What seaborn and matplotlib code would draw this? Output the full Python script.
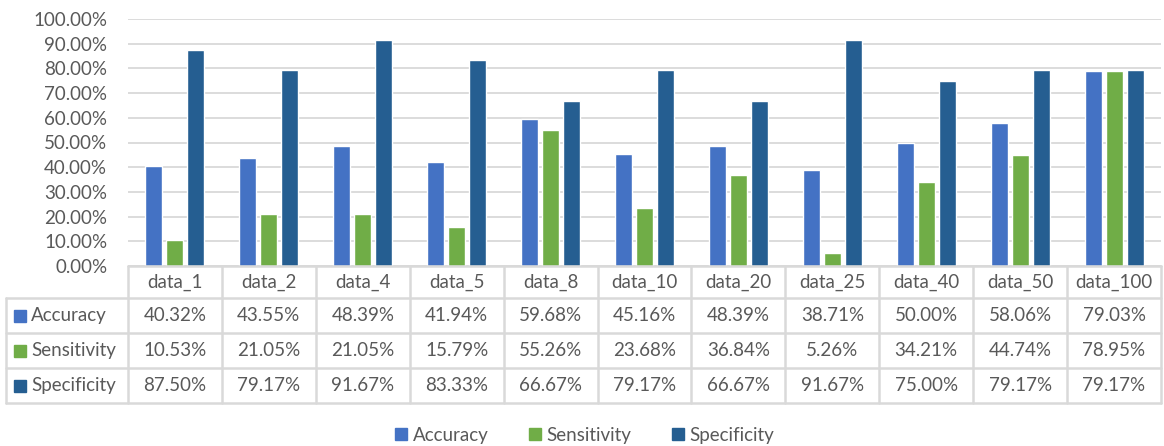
import matplotlib
matplotlib.use("Agg")
import matplotlib.pyplot as plt
import seaborn as sns
import pandas as pd
from matplotlib.lines import Line2D
from matplotlib.patches import Rectangle

# values
datasets = ["data_1", "data_2", "data_4", "data_5", "data_8", "data_10",
            "data_20", "data_25", "data_40", "data_50", "data_100"]
accuracy = [40.32, 43.55, 48.39, 41.94, 59.68, 45.16, 48.39, 38.71, 50.00, 58.06, 79.03]
sensitivity = [10.53, 21.05, 21.05, 15.79, 55.26, 23.68, 36.84, 5.26, 34.21, 44.74, 78.95]
specificity = [87.50, 79.17, 91.67, 83.33, 66.67, 79.17, 66.67, 91.67, 75.00, 79.17, 79.17]
metrics = ["Accuracy", "Sensitivity", "Specificity"]
colors = ["#4472C4", "#70AD47", "#255E91"]

df = pd.DataFrame({
    "dataset": datasets * 3,
    "metric": [m for m in metrics for _ in datasets],
    "value": accuracy + sensitivity + specificity,
})

W, H = 1164, 446
sns.set_theme(style="white")
plt.rcParams["font.family"] = ["Lato", "DejaVu Sans"]
txt = "#595959"
line_c = "#d9d9d9"
fs = 13.5

fig = plt.figure(figsize=(W / 100, H / 100), dpi=100)
# axes placed in pixel terms
x0, x1, y_top, y_bot = 128, 1161, 19, 266
ax = fig.add_axes([x0 / W, 1 - y_bot / H, (x1 - x0) / W, (y_bot - y_top) / H])

sns.barplot(data=df, x="dataset", y="value", hue="metric", palette=colors,
            width=0.67, gap=0.19, ax=ax, legend=False, saturation=1)
ax.set_xlim(-0.5, len(datasets) - 0.5)
ax.set_ylim(0, 100)
ax.set_yticks(range(0, 101, 10))
ax.set_yticklabels([f"{v:.2f}%" for v in range(0, 101, 10)], color=txt, fontsize=fs)
ax.tick_params(axis="y", length=0, pad=15)
ax.set_xticks([])
ax.set_xlabel("")
ax.set_ylabel("")
ax.yaxis.grid(True, color=line_c, linewidth=1.3)
ax.set_axisbelow(True)
for s in ax.spines.values():
    s.set_visible(False)

# data table below the axes
def fx(px):
    return px / W

def fy(py):
    return 1 - py / H

col_w = (x1 - x0) / len(datasets)
rows = [266, 298, 333, 368, 403]
left = 6
lw = 1.8
# horizontal lines
fig.add_artist(Line2D([fx(x0), fx(x1)], [fy(rows[0])] * 2, color=line_c, lw=lw))
for r in rows[1:]:
    fig.add_artist(Line2D([fx(left), fx(x1)], [fy(r)] * 2, color=line_c, lw=lw))
# vertical lines
for i in range(len(datasets) + 1):
    xp = x0 + i * col_w
    fig.add_artist(Line2D([fx(xp)] * 2, [fy(rows[0]), fy(rows[-1])], color=line_c, lw=lw))
fig.add_artist(Line2D([fx(left)] * 2, [fy(rows[1]), fy(rows[-1])], color=line_c, lw=lw))

# header
for i, name in enumerate(datasets):
    cx = x0 + (i + 0.5) * col_w
    fig.text(fx(cx), fy((rows[0] + rows[1]) / 2), name, ha="center", va="center",
             color=txt, fontsize=fs)

series = [accuracy, sensitivity, specificity]
for j, (m, c, vals) in enumerate(zip(metrics, colors, series)):
    cy = (rows[j + 1] + rows[j + 2]) / 2
    fig.add_artist(Rectangle((fx(14), fy(cy + 6)), 12 / W, 12 / H, color=c,
                             transform=fig.transFigure))
    fig.text(fx(31), fy(cy), m, ha="left", va="center", color=txt, fontsize=fs)
    for i, v in enumerate(vals):
        cx = x0 + (i + 0.5) * col_w
        fig.text(fx(cx), fy(cy), f"{v:.2f}%", ha="center", va="center",
                 color=txt, fontsize=fs)

# legend
handles = [Line2D([], [], marker="s", linestyle="", markersize=9,
                  markerfacecolor=c, markeredgecolor=c) for c in colors]
fig.legend(handles, metrics, loc="center", bbox_to_anchor=(fx(583), fy(435)),
           ncol=3, frameon=False, fontsize=fs, labelcolor=txt,
           handletextpad=0.1, columnspacing=2.0, handlelength=1.0)

fig.savefig("out.png", dpi=100)
